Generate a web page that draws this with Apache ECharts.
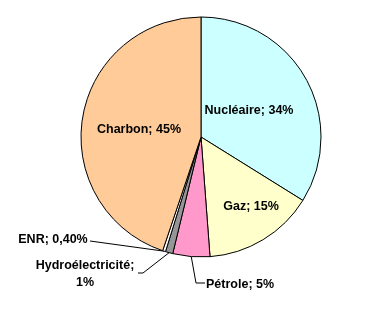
<!DOCTYPE html>
<html>
<head>
<meta charset="utf-8">
<script src="https://cdn.jsdelivr.net/npm/echarts@6/dist/echarts.min.js"></script>
<style>html,body{margin:0;padding:0;background:#fff;}#c{width:368px;height:316px;}</style>
</head>
<body>
<div id="c"></div>
<script>
const categories = ['Nucléaire', 'Gaz', 'Pétrole', 'Hydroélectricité', 'ENR', 'Charbon'];
const values = [34, 15, 5, 1, 0.4, 45];
const colors = ['#CCFFFF', '#FFFFCC', '#FF99CC', '#969696', '#FFFFFF', '#FFCC99'];

function pct(v) {
  return (v < 1 ? v.toFixed(2) : String(v)).replace('.', ',') + '%';
}

// label placement (layout only)
const labelPos = [
  {x: 249, y: 111, align: 'center'},
  {x: 251, y: 207, align: 'center'},
  {x: 206, y: 285, align: 'left', bend: [[196, 283], [205, 283]]},
  {x: 85, y: 274, align: 'center', bend: [[143, 273], [138, 273]]},
  {x: 53, y: 240, align: 'center', bend: [[90, 241]]},
  {x: 139, y: 130, align: 'center'}
];
const outside = [false, false, true, true, true, false];

const data = categories.map((c, i) => ({
  name: c,
  value: values[i],
  itemStyle: {color: colors[i]},
  label: {
    show: true,
    position: outside[i] ? 'outside' : 'inside',
    formatter: (c === 'Hydroélectricité' ? c + ';\n' : c + '; ') + pct(values[i]),
    align: 'center'
  },
  labelLine: {show: outside[i], length: 10, length2: 10}
}));

const chart = echarts.init(document.getElementById('c'), null, {renderer: 'canvas'});
chart.setOption({
  backgroundColor: '#fff',
  animation: false,
  series: [{
    type: 'pie',
    center: [201, 137],
    radius: 120,
    startAngle: 90,
    clockwise: true,
    avoidLabelOverlap: false,
    emphasis: {disabled: true},
    itemStyle: {borderColor: '#000', borderWidth: 1},
    label: {
      color: '#000',
      fontFamily: 'Liberation Sans, Arial, sans-serif',
      fontWeight: 'bold',
      fontSize: 12.5,
      lineHeight: 17
    },
    labelLine: {lineStyle: {color: '#000', width: 1}},
    labelLayout: function (params) {
      const i = params.dataIndex;
      const p = labelPos[i];
      const res = {x: p.x, y: p.y, align: p.align, verticalAlign: 'middle'};
      if (p.bend && params.labelLinePoints) {
        res.labelLinePoints = [params.labelLinePoints[0]].concat(p.bend);
      }
      return res;
    },
    data: data
  }]
});
</script>
</body>
</html>
